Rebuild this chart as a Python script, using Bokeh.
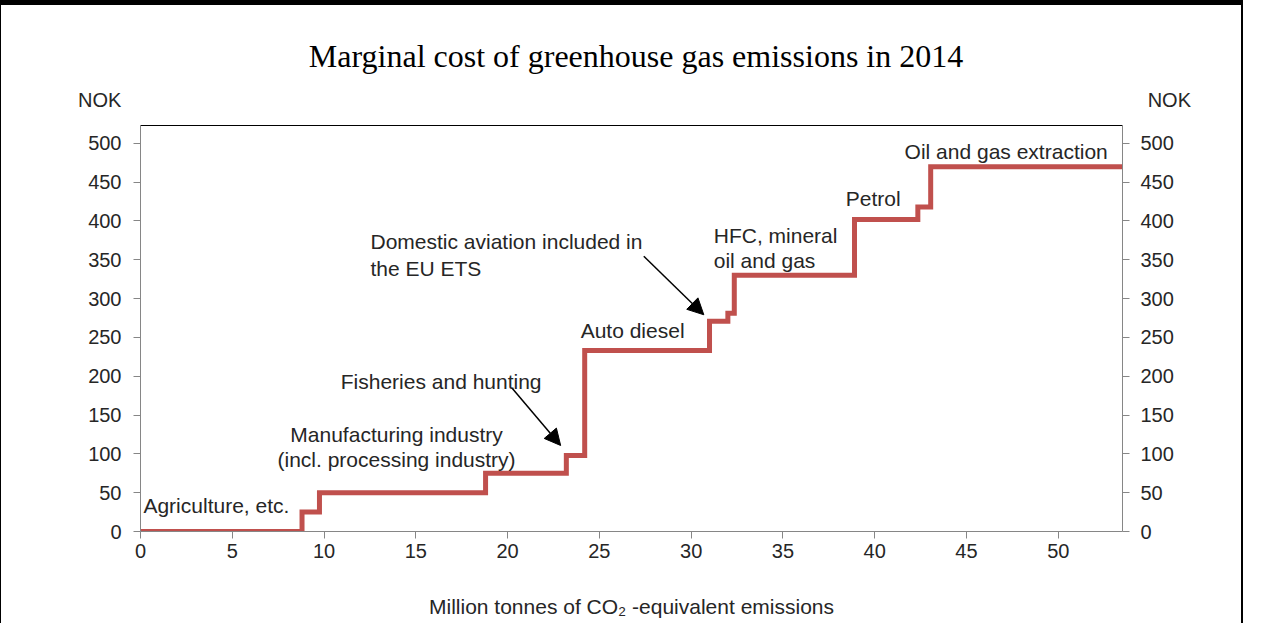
from bokeh.plotting import figure
from bokeh.models import Range1d, LinearAxis, Label, Arrow, NormalHead, FixedTicker
from bokeh.layouts import column
from bokeh.embed import file_html
from bokeh.resources import INLINE

# ---- data ----
step_x = [0, 8.8, 9.75, 18.8, 23.2, 24.2, 31.0, 32.0, 32.35, 38.9, 42.35, 43.05, 53.5]
step_cost = [0, 25, 50, 75, 98, 233, 271, 281, 330, 402, 418, 470]
x_ticks = [0, 5, 10, 15, 20, 25, 30, 35, 40, 45, 50]
y_ticks = [0, 50, 100, 150, 200, 250, 300, 350, 400, 450, 500]
title_text = "Marginal cost of greenhouse gas emissions in 2014"
x_label = "Million tonnes of CO\u2082 -equivalent emissions"
unit_label = "NOK"
ann_texts = ["Agriculture, etc.", "Manufacturing industry", "(incl. processing industry)",
             "Fisheries and hunting", "Auto diesel", "Domestic aviation included in",
             "the EU ETS", "HFC, mineral", "oil and gas", "Petrol", "Oil and gas extraction"]
ann_x = [0.16, 13.95, 13.95, 16.38, 23.98, 12.53, 12.53, 31.23, 31.23, 38.42, 41.63]
ann_y = [33.5, 125, 92.7, 193.2, 258.9, 373.5, 338.7, 381.2, 349, 428.8, 489.4]
ann_align = ["left", "center", "center", "center", "left", "left", "left", "left", "left", "left", "left"]
arrow_start = [(20.26, 184.2), (27.42, 354.5)]
arrow_end = [(22.89, 110.8), (30.69, 279.2)]

LINE = "#C0504D"
TXT = "#262626"
AX = "#868686"
SANS = "Liberation Sans"
W = 1243

# ---- header: title and unit labels ----
head = figure(width=W, height=115, output_backend="svg", toolbar_location=None,
              x_range=Range1d(1, 1241), y_range=Range1d(0, 110),
              x_axis_type=None, y_axis_type=None,
              min_border_left=0, min_border_right=0, min_border_top=0, min_border_bottom=0,
              background_fill_color="white", border_fill_color="white")
head.outline_line_color = None
head.grid.visible = False
head.styles = {"border-top": "5px solid black", "border-left": "1px solid black",
               "border-right": "2px solid black"}
head.add_layout(Label(x=634, y=62, text=title_text, text_align="center", text_baseline="middle",
                      text_font="Liberation Serif", text_font_size="32px", text_color="black"))
head.add_layout(Label(x=99, y=20, text=unit_label, text_align="center", text_baseline="middle",
                      text_font=SANS, text_font_size="20px", text_color=TXT))
head.add_layout(Label(x=1166, y=20, text=unit_label, text_align="center", text_baseline="middle",
                      text_font=SANS, text_font_size="20px", text_color=TXT))

# ---- main chart ----
p = figure(width=W, height=508, output_backend="svg", toolbar_location=None,
           x_range=Range1d(0, 53.5), y_range=Range1d(0, 523),
           min_border_left=139, min_border_right=122, min_border_top=10, min_border_bottom=92,
           background_fill_color="white", border_fill_color="white")
p.styles = {"border-left": "1px solid black", "border-right": "2px solid black"}
p.outline_line_color = None
p.grid.visible = False

for fig in (head, p):
    if "frame_align" in fig.properties():
        fig.frame_align = False

ys = step_cost + [step_cost[-1]]
p.step(x=step_x, y=ys, mode="after", line_color=LINE, line_width=5, line_join="miter")

def style_axis(ax):
    ax.axis_line_color = AX
    ax.major_tick_line_color = AX
    ax.major_tick_in = 0
    ax.major_tick_out = 7
    ax.minor_tick_line_color = None
    ax.major_label_text_font = SANS
    ax.major_label_text_font_size = "20px"
    ax.major_label_text_color = TXT

p.xaxis.ticker = FixedTicker(ticks=x_ticks)
p.yaxis.ticker = FixedTicker(ticks=y_ticks)
style_axis(p.xaxis[0])
style_axis(p.yaxis[0])
p.xaxis.major_label_standoff = 5
p.yaxis.major_label_standoff = 12
p.xaxis.axis_label = x_label
p.xaxis.axis_label_text_font = SANS
p.xaxis.axis_label_text_font_size = "21px"
p.xaxis.axis_label_text_font_style = "normal"
p.xaxis.axis_label_text_color = TXT
p.xaxis.axis_label_standoff = 34

right = LinearAxis(ticker=FixedTicker(ticks=y_ticks))
style_axis(right)
right.major_label_standoff = 11
p.add_layout(right, "right")

top = LinearAxis(ticker=FixedTicker(ticks=[]), axis_line_color="black",
                 major_tick_line_color=None, minor_tick_line_color=None,
                 major_label_text_font_size="0px")
p.add_layout(top, "above")

for t, x, y, a in zip(ann_texts, ann_x, ann_y, ann_align):
    p.add_layout(Label(x=x, y=y, text=t, text_align=a, text_baseline="middle",
                       text_font=SANS, text_font_size="21px", text_color=TXT))

for (xs, ys0), (xe, ye) in zip(arrow_start, arrow_end):
    p.add_layout(Arrow(x_start=xs, y_start=ys0, x_end=xe, y_end=ye, line_color="black", line_width=1.5,
                       end=NormalHead(size=16, fill_color="black", line_color="black")))

layout = column(head, p, spacing=0)
open("out.html", "w").write(file_html(layout, INLINE))
